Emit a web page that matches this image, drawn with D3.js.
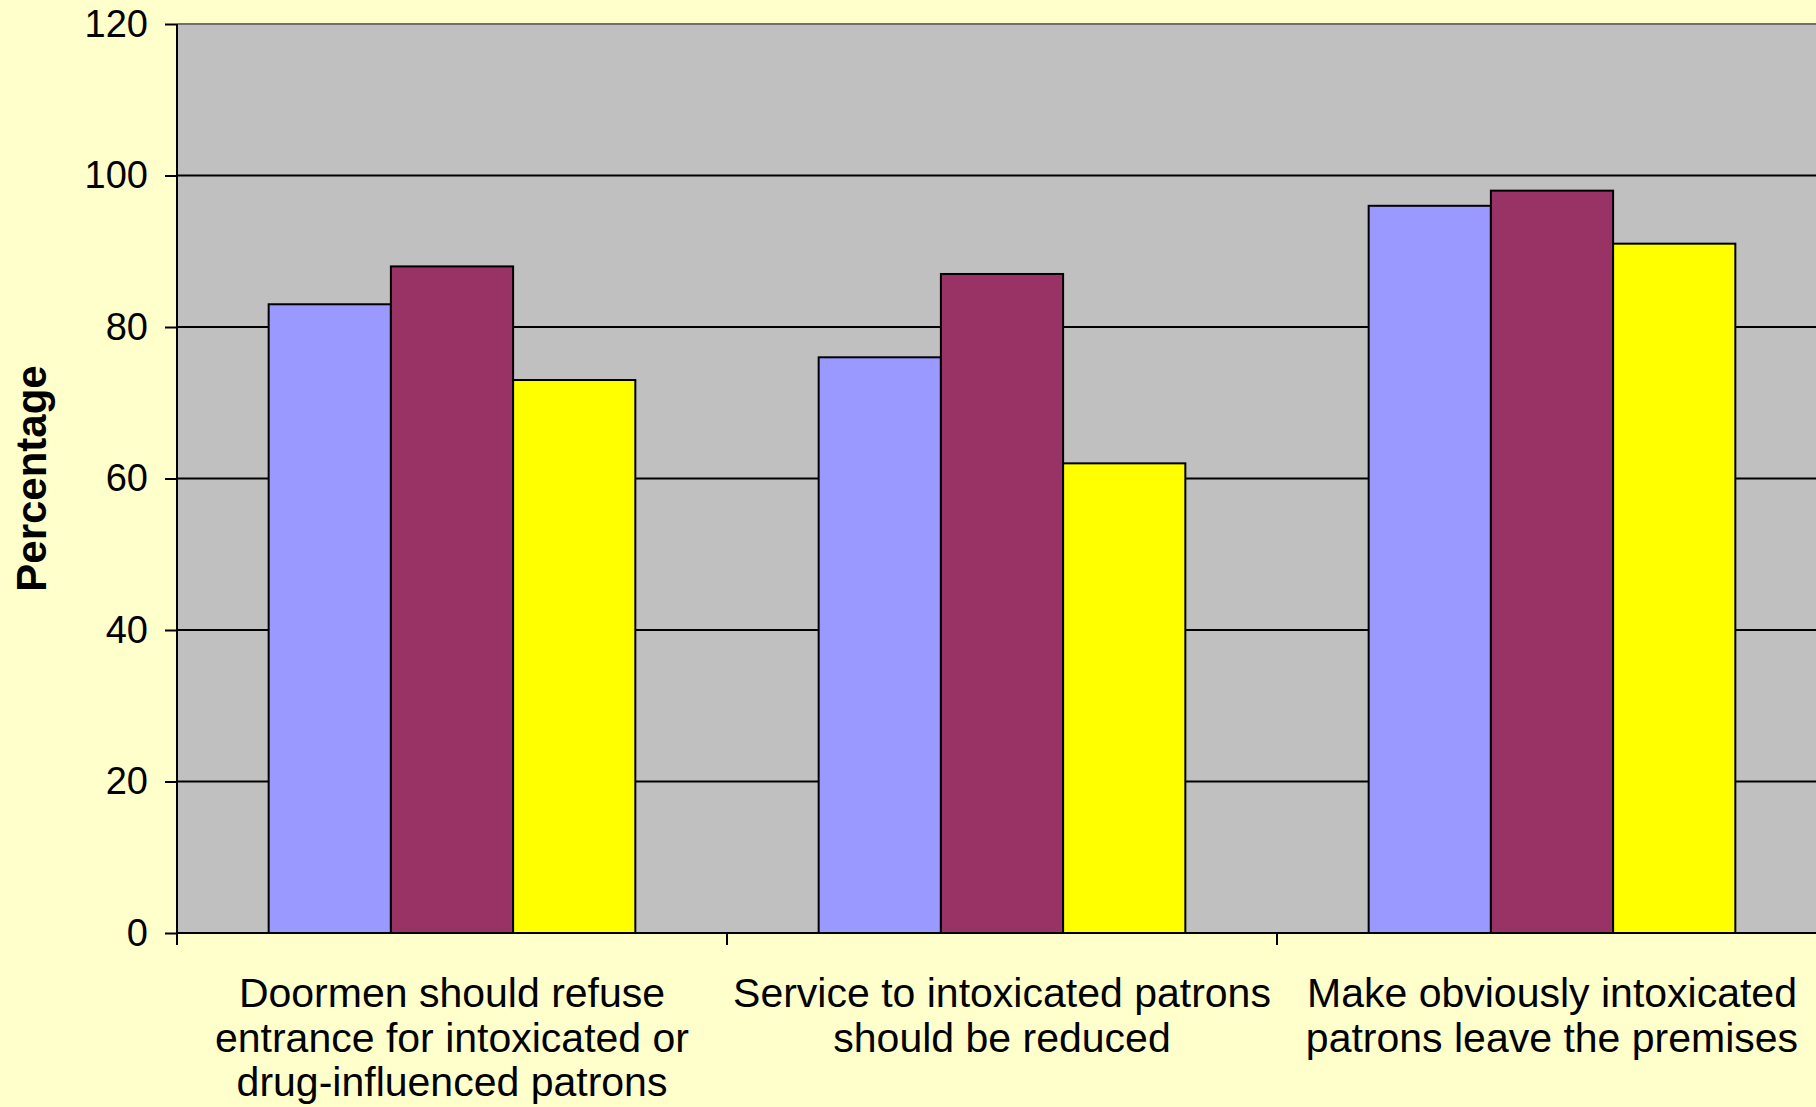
<!DOCTYPE html>
<html>
<head>
<meta charset="utf-8">
<script src="https://cdn.jsdelivr.net/npm/d3@7"></script>
<style>
  html, body { margin: 0; padding: 0; background: #FFFFCC; }
  svg { display: block; font-family: "Liberation Sans", Arial, sans-serif; }
</style>
</head>
<body>
<svg id="chart" width="1816" height="1107"></svg>
<script>
// Data ------------------------------------------------------------------------------------

var categories = ["doormen", "service", "leave"];
var categoryLines = [
    ["Doormen should refuse", "entrance for intoxicated or", "drug-influenced patrons"],
    ["Service to intoxicated patrons", "should be reduced"],
    ["Make obviously intoxicated", "patrons leave the premises"]
];
var series1 = [83, 76, 96];
var series2 = [88, 87, 98];
var series3 = [73, 62, 91];
var seriesColors = ["#9999FF", "#993366", "#FFFF00"];
var yTicks = [0, 20, 40, 60, 80, 100, 120];

// Layout ----------------------------------------------------------------------------------

var svg = d3.select("#chart");
var plotLeft = 177, plotTop = 24, plotBottom = 933;
var plotRight = 177 + 550 * 3; // wider than the page, gets clipped on the right

var x = d3.scaleBand().domain(categories).range([plotLeft, plotRight]).padding(0);
var barW = x.bandwidth() / 4.5; // 3 bars + 150% gap
var y = d3.scaleLinear().domain([0, 120]).range([plotBottom, plotTop]);

// background of plot
svg.append("rect")
    .attr("x", plotLeft).attr("y", plotTop)
    .attr("width", plotRight - plotLeft).attr("height", plotBottom - plotTop)
    .attr("fill", "#C0C0C0");

// gridlines
svg.append("g")
    .selectAll("line")
    .data(yTicks.filter(function (d) { return d > 0; }))
    .enter()
    .append("line")
    .attr("x1", plotLeft).attr("x2", plotRight)
    .attr("y1", function (d) { return y(d); })
    .attr("y2", function (d) { return y(d); })
    .attr("stroke", function (d) { return d == 120 ? "#707070" : "#000"; })
    .attr("stroke-width", 2);

// Bars ------------------------------------------------------------------------------------

var allSeries = [series1, series2, series3];
allSeries.forEach(function (vals, s) {
    svg.append("g")
        .selectAll("rect")
        .data(vals)
        .enter()
        .append("rect")
        .attr("x", function (d, i) { return x(categories[i]) + barW * (0.75 + s); })
        .attr("y", function (d) { return y(d); })
        .attr("width", barW)
        .attr("height", function (d) { return plotBottom - y(d); })
        .attr("fill", seriesColors[s])
        .attr("stroke", "#000")
        .attr("stroke-width", 2);
});

// Axes ------------------------------------------------------------------------------------

var yAxis = d3.axisLeft(y).tickValues(yTicks).tickSize(12).tickPadding(17);
var yg = svg.append("g").attr("transform", "translate(" + plotLeft + ",0)").call(yAxis);
yg.select(".domain").attr("stroke", "#000").attr("stroke-width", 2).attr("d", "M0," + plotTop + "V" + plotBottom);
yg.selectAll(".tick line").attr("stroke", "#000").attr("stroke-width", 2);
yg.selectAll(".tick text")
    .attr("font-size", 38)
    .attr("fill", "#000")
    .attr("font-family", "Liberation Sans, Arial, sans-serif");

// x axis baseline + ticks at category boundaries
var xg = svg.append("g");
xg.append("line")
    .attr("x1", plotLeft).attr("x2", plotRight)
    .attr("y1", plotBottom).attr("y2", plotBottom)
    .attr("stroke", "#000").attr("stroke-width", 2);
xg.selectAll(".xtick")
    .data(categories)
    .enter()
    .append("line")
    .attr("x1", function (d) { return x(d); })
    .attr("x2", function (d) { return x(d); })
    .attr("y1", plotBottom).attr("y2", plotBottom + 12)
    .attr("stroke", "#000").attr("stroke-width", 2);

// category labels
categories.forEach(function (c, i) {
    var cx = x(c) + x.bandwidth() / 2;
    var t = svg.append("text")
        .attr("x", cx)
        .attr("y", 1007)
        .attr("text-anchor", "middle")
        .attr("font-size", 41)
        .attr("fill", "#000");
    categoryLines[i].forEach(function (line, j) {
        t.append("tspan")
            .attr("x", cx)
            .attr("dy", j == 0 ? 0 : 44.5)
            .text(line);
    });
});

// y axis title
svg.append("text")
    .attr("transform", "translate(46," + ((plotTop + plotBottom) / 2) + ") rotate(-90)")
    .attr("text-anchor", "middle")
    .attr("font-size", 42)
    .attr("font-weight", "bold")
    .attr("fill", "#000")
    .text("Percentage");
</script>
</body>
</html>
